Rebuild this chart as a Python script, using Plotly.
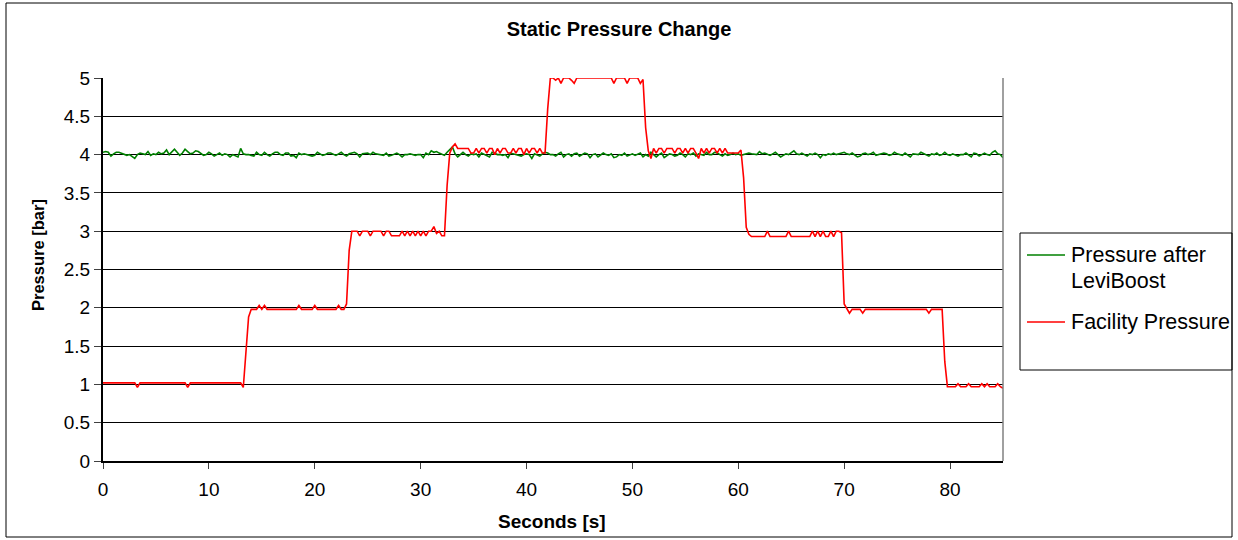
import plotly.graph_objects as go

# ---- data (sampled every 0.25 s, starting at 0 s) ----
time_start = 0.0
time_step = 0.25

pressure_after_leviboost = [
    4.03, 4.04, 4.03, 3.98, 4.01, 4.03, 4.03, 4.02, 4.00, 3.99, 4.00, 3.97, 3.95, 4.00, 4.02, 4.01, 4.00, 4.04, 3.99, 4.01,
    4.00, 4.03, 4.01, 4.02, 4.06, 4.00, 4.04, 4.07, 4.03, 3.99, 4.02, 4.07, 4.04, 4.01, 4.02, 4.05, 4.04, 4.01, 3.99, 4.00,
    4.03, 4.01, 3.98, 4.00, 4.02, 3.99, 4.01, 4.00, 3.97, 4.00, 3.99, 3.97, 4.08, 4.01, 4.00, 4.00, 3.99, 3.98, 4.03, 4.00,
    3.99, 4.03, 4.00, 3.98, 4.01, 4.03, 4.03, 4.00, 3.99, 4.02, 4.02, 3.98, 3.99, 3.96, 4.02, 4.00, 4.01, 4.00, 4.00, 3.98,
    3.99, 4.03, 4.01, 3.99, 4.00, 4.02, 4.02, 4.00, 3.99, 4.01, 4.03, 4.00, 3.98, 4.01, 4.02, 4.03, 4.01, 3.97, 4.01, 4.02,
    4.02, 4.00, 4.03, 4.01, 4.00, 4.00, 3.99, 4.02, 3.98, 3.99, 4.01, 4.02, 4.00, 3.97, 4.00, 4.00, 4.01, 4.00, 3.99, 4.00,
    4.00, 3.96, 4.02, 4.00, 4.05, 4.03, 4.04, 4.02, 4.00, 3.99, 4.03, 4.07, 4.10, 4.01, 3.97, 4.00, 4.03, 4.00, 3.98, 4.01,
    4.00, 4.01, 3.97, 4.02, 4.00, 3.98, 3.97, 4.03, 4.01, 4.00, 4.00, 3.99, 4.00, 3.96, 4.02, 4.01, 4.00, 4.00, 3.98, 4.00,
    4.01, 4.00, 3.95, 4.01, 4.00, 3.98, 4.01, 4.03, 4.02, 4.00, 4.00, 3.98, 4.01, 4.03, 3.97, 4.00, 4.01, 3.98, 4.01, 4.02,
    3.98, 4.00, 4.02, 4.01, 3.96, 4.00, 4.01, 3.97, 3.99, 4.02, 4.00, 3.99, 4.01, 3.96, 3.97, 4.00, 3.99, 4.02, 3.98, 4.00,
    4.01, 3.99, 4.00, 4.02, 3.97, 4.00, 3.98, 4.03, 4.00, 3.97, 4.00, 4.02, 3.96, 3.99, 4.01, 4.00, 3.98, 3.99, 4.02, 4.00,
    3.97, 4.01, 4.00, 4.02, 3.98, 4.01, 4.00, 3.99, 4.03, 4.00, 4.00, 4.03, 4.02, 4.00, 3.98, 4.01, 3.99, 4.00, 4.02, 4.00,
    4.01, 3.99, 4.00, 4.00, 4.02, 4.01, 4.00, 4.00, 4.04, 4.01, 4.02, 4.00, 3.99, 4.01, 4.03, 4.00, 3.97, 3.99, 4.01, 4.00,
    4.02, 4.05, 4.01, 4.00, 4.02, 4.00, 3.98, 4.01, 4.00, 4.02, 4.00, 3.96, 4.00, 3.99, 4.01, 4.00, 4.02, 4.00, 4.01, 4.01,
    4.03, 4.01, 4.00, 4.02, 4.00, 3.97, 3.98, 4.01, 4.02, 4.00, 4.01, 4.03, 3.99, 4.00, 4.00, 4.02, 4.01, 3.99, 4.00, 4.03,
    4.01, 4.00, 3.99, 4.02, 4.00, 3.97, 4.01, 4.00, 4.00, 4.03, 4.01, 4.00, 3.98, 4.01, 4.00, 4.02, 3.99, 4.00, 4.03, 4.00,
    3.99, 4.01, 4.00, 3.98, 4.00, 4.00, 4.02, 4.00, 3.97, 4.02, 4.01, 3.98, 4.00, 4.02, 4.00, 3.99, 4.03, 4.05, 4.01, 4.00,
    3.96,
]

facility_pressure = [
    1.02, 1.02, 1.02, 1.02, 1.02, 1.02, 1.02, 1.02, 1.02, 1.02, 1.02, 1.02, 1.02, 0.96, 1.02, 1.02, 1.02, 1.02, 1.02, 1.02,
    1.02, 1.02, 1.02, 1.02, 1.02, 1.02, 1.02, 1.02, 1.02, 1.02, 1.02, 1.02, 0.96, 1.02, 1.02, 1.02, 1.02, 1.02, 1.02, 1.02,
    1.02, 1.02, 1.02, 1.02, 1.02, 1.02, 1.02, 1.02, 1.02, 1.02, 1.02, 1.02, 1.02, 0.96, 1.45, 1.88, 1.98, 1.98, 1.98, 2.03,
    1.98, 2.03, 1.98, 1.98, 1.98, 1.98, 1.98, 1.98, 1.98, 1.98, 1.98, 1.98, 1.98, 1.98, 2.03, 1.98, 1.98, 1.98, 1.98, 1.98,
    2.03, 1.98, 1.98, 1.98, 1.98, 1.98, 1.98, 1.98, 1.98, 2.03, 1.98, 1.98, 2.05, 2.75, 3.00, 3.00, 3.00, 2.94, 3.00, 3.00,
    3.00, 2.94, 3.00, 3.00, 3.00, 3.00, 2.94, 3.00, 3.00, 2.94, 2.94, 2.94, 2.94, 3.00, 2.94, 3.00, 2.94, 3.00, 2.94, 3.00,
    2.94, 3.00, 2.94, 3.00, 3.00, 3.06, 2.97, 3.00, 2.94, 2.94, 3.60, 4.02, 4.10, 4.14, 4.08, 4.08, 4.08, 4.08, 4.08, 4.02,
    4.02, 4.08, 4.02, 4.08, 4.08, 4.02, 4.08, 4.08, 4.00, 4.08, 4.02, 4.08, 4.08, 4.02, 4.02, 4.08, 4.02, 4.08, 4.08, 4.00,
    4.08, 4.02, 4.08, 4.08, 4.02, 4.08, 4.02, 4.02, 4.60, 5.00, 5.00, 4.97, 5.00, 4.93, 5.00, 5.00, 5.00, 4.97, 4.93, 5.00,
    5.00, 5.00, 5.00, 5.00, 5.00, 5.00, 5.00, 5.00, 5.00, 5.00, 5.00, 5.00, 5.00, 4.93, 5.00, 5.00, 5.00, 5.00, 4.93, 5.00,
    5.00, 5.00, 5.00, 4.93, 4.98, 4.35, 4.05, 3.95, 4.08, 4.02, 4.08, 4.08, 4.02, 4.08, 4.08, 4.08, 4.02, 4.08, 4.08, 4.02,
    4.08, 4.02, 4.08, 4.08, 4.02, 3.95, 4.08, 4.02, 4.08, 4.02, 4.08, 4.08, 4.02, 4.08, 4.02, 4.08, 4.02, 4.02, 4.02, 4.02,
    4.02, 4.06, 3.70, 3.05, 2.96, 2.93, 2.93, 2.93, 2.93, 2.93, 2.93, 3.00, 2.93, 2.93, 2.93, 2.93, 2.93, 2.93, 2.93, 3.00,
    2.93, 2.93, 2.93, 2.93, 2.93, 2.93, 2.93, 2.93, 3.00, 2.93, 3.00, 2.93, 3.00, 2.93, 2.93, 3.00, 2.93, 3.00, 3.00, 2.98,
    2.05, 1.98, 1.93, 1.98, 1.98, 1.98, 1.98, 1.93, 1.98, 1.98, 1.98, 1.98, 1.98, 1.98, 1.98, 1.98, 1.98, 1.98, 1.98, 1.98,
    1.98, 1.98, 1.98, 1.98, 1.98, 1.98, 1.98, 1.98, 1.98, 1.98, 1.98, 1.98, 1.93, 1.98, 1.98, 1.98, 1.98, 1.98, 1.30, 0.97,
    0.97, 0.97, 0.97, 1.01, 0.97, 0.97, 0.97, 1.01, 0.97, 0.97, 0.97, 0.97, 1.01, 0.97, 1.01, 0.97, 0.97, 0.97, 1.01, 0.97,
    0.95,
]

series_names = ["Pressure after LeviBoost", "Facility Pressure"]
legend_lines = [["Pressure after", "LeviBoost"], ["Facility Pressure"]]
series_colors = ["#008000", "#FF0000"]

x_ticks = [0, 10, 20, 30, 40, 50, 60, 70, 80]
y_ticks = [0, 0.5, 1, 1.5, 2, 2.5, 3, 3.5, 4, 4.5, 5]
y_tick_labels = ["0", "0.5", "1", "1.5", "2", "2.5", "3", "3.5", "4", "4.5", "5"]

chart_title = "Static Pressure Change"
x_title = "Seconds [s]"
y_title = "Pressure [bar]"

FONT = "Liberation Sans, Arial, sans-serif"

fig = go.Figure()
for vals, name, color in zip([pressure_after_leviboost, facility_pressure], series_names, series_colors):
    fig.add_trace(go.Scatter(
        x0=time_start, dx=time_step, y=vals, mode="lines", name=name,
        line=dict(color=color, width=1.6), showlegend=False,
    ))

W, H = 1238, 540
L, R, T, B = 103, 1003, 78, 461


def px(xp):
    return (xp - L) / (R - L)


def py(yp):
    return (B - yp) / (B - T)


shapes = [
    # outer chart border
    dict(type="rect", xref="paper", yref="paper", x0=px(6), x1=px(1232), y0=py(537), y1=py(3),
         line=dict(color="black", width=1), layer="below"),
    # right plot-area border
    dict(type="line", xref="paper", yref="paper", x0=1, x1=1, y0=0, y1=1,
         line=dict(color="#808080", width=1.5)),
    # legend box
    dict(type="rect", xref="paper", yref="paper", x0=px(1020), x1=px(1232), y0=py(370), y1=py(233),
         line=dict(color="black", width=1)),
]
annotations = [
    dict(text="<b>" + x_title + "</b>", xref="paper", yref="paper", x=px(552), y=py(521),
         showarrow=False, xanchor="center", yanchor="middle",
         font=dict(family=FONT, size=19, color="black")),
    dict(text="<b>" + y_title + "</b>", xref="paper", yref="paper", x=px(38), y=py(255),
         showarrow=False, xanchor="center", yanchor="middle", textangle=-90,
         font=dict(family=FONT, size=16.5, color="black")),
]

# legend (drawn in paper coordinates)
legend_row_y = [255, 322]
line_step = 26
for rows, color, y0 in zip(legend_lines, series_colors, legend_row_y):
    shapes.append(dict(type="line", xref="paper", yref="paper", x0=px(1027), x1=px(1065),
                       y0=py(y0), y1=py(y0), line=dict(color=color, width=1.6)))
    for k, txt in enumerate(rows):
        annotations.append(dict(text=txt, xref="paper", yref="paper", x=px(1069), y=py(y0 + k * line_step),
                                showarrow=False, xanchor="left", yanchor="middle",
                                font=dict(family=FONT, size=21.5, color="black")))

fig.update_layout(
    width=W, height=H,
    margin=dict(l=L, r=W - R, t=T, b=H - B, pad=0, autoexpand=False),
    paper_bgcolor="white", plot_bgcolor="white",
    font=dict(family=FONT, color="black", size=19),
    title=dict(text="<b>" + chart_title + "</b>", x=0.5, xref="container", xanchor="center",
               y=1 - 29 / H, yref="container", yanchor="middle",
               font=dict(family=FONT, size=20, color="black")),
    showlegend=False,
    xaxis=dict(range=[0, 85], tickvals=x_ticks, showgrid=False, zeroline=False,
               showline=True, linecolor="black", linewidth=2,
               ticks="outside", ticklen=6, tickcolor="#404040", tickwidth=1,
               ticklabelstandoff=4,
               tickfont=dict(family=FONT, size=19, color="black")),
    yaxis=dict(range=[0, 5], tickvals=y_ticks, ticktext=y_tick_labels,
               showgrid=True, gridcolor="#000000", gridwidth=1, zeroline=False,
               showline=True, linecolor="black", linewidth=2,
               ticks="outside", ticklen=7, tickcolor="#404040", tickwidth=1,
               tickfont=dict(family=FONT, size=19, color="black")),
    shapes=shapes,
    annotations=annotations,
)

fig.write_html("out.html")
